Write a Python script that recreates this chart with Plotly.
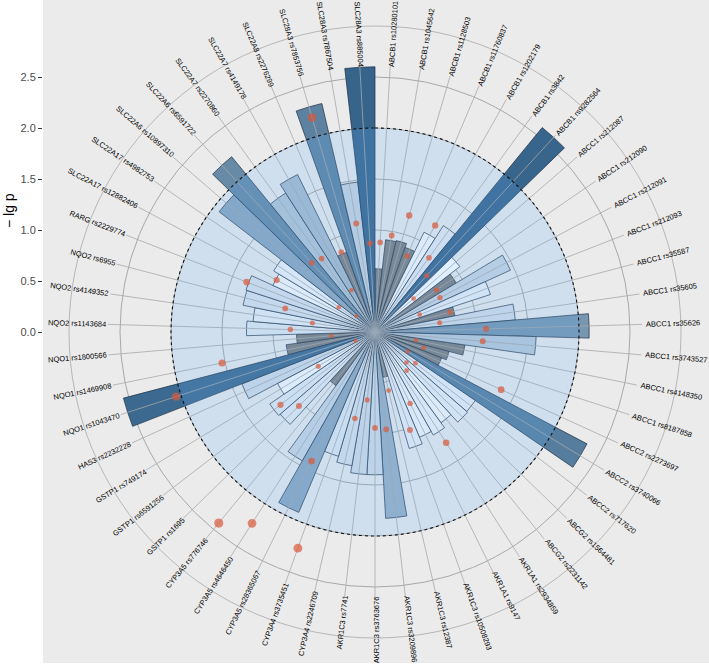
import math
import numpy as np
import plotly.graph_objects as go

# ---------------- data ----------------
snps = [
    "ABCB1 rs10280101", "ABCB1 rs1045642", "ABCB1 rs1128503", "ABCB1 rs11760837",
    "ABCB1 rs1202179", "ABCB1 rs3842", "ABCB1 rs9282564",
    "ABCC1 rs212087", "ABCC1 rs212090", "ABCC1 rs212091", "ABCC1 rs212093",
    "ABCC1 rs35587", "ABCC1 rs35605", "ABCC1 rs35626", "ABCC1 rs3743527",
    "ABCC1 rs4148350", "ABCC1 rs8187858",
    "ABCC2 rs2273697", "ABCC2 rs3740066", "ABCC2 rs717620",
    "ABCG2 rs1564481", "ABCG2 rs2231142",
    "AKR1A1 rs2934859", "AKR1A1 rs9147",
    "AKR1C3 rs10508293", "AKR1C3 rs12387", "AKR1C3 rs3209896", "AKR1C3 rs3763676", "AKR1C3 rs7741",
    "CYP3A4 rs2246709", "CYP3A4 rs3735451",
    "CYP3A5 rs28365067", "CYP3A5 rs4646450", "CYP3A5 rs776746",
    "GSTP1 rs1695", "GSTP1 rs6591256", "GSTP1 rs749174",
    "HAS3 rs2232228",
    "NQO1 rs1043470", "NQO1 rs1469908", "NQO1 rs1800566",
    "NQO2 rs1143684", "NQO2 rs4149352", "NQO2 rs6955",
    "RARG rs2229774",
    "SLC22A17 rs12882406", "SLC22A17 rs4982753",
    "SLC22A6 rs10897310", "SLC22A6 rs6591722",
    "SLC22A7 rs2270860", "SLC22A7 rs4149178",
    "SLC22A8 rs2276299",
    "SLC28A3 rs7853756", "SLC28A3 rs7867504", "SLC28A3 rs885004",
]

# bar heights (-lg p)
lgp = [
    0.62, 0.91, 0.92, 0.88, 1.09, 1.24, 2.59,
    1.05, 0.93, 1.46, 1.19, 0.80, 1.38, 2.10, 1.58, 0.89, 0.75,
    0.70, 2.35, 1.19,
    1.20, 1.10,
    1.16, 1.12,
    1.19, 0.45, 1.83, 1.40, 1.40,
    1.33, 1.27,
    1.92, 1.45, 0.65,
    1.23, 1.25, 1.08,
    1.40,
    2.55, 0.88, 0.77,
    1.26, 1.20, 1.32,
    1.33,
    1.10, 1.16,
    1.93, 2.22,
    1.62, 1.72,
    0.83,
    2.30, 1.48, 2.60,
]

# red points (-lg p of second test)
dot_lgp = [
    0.88, 0.96, 1.19, 0.81, 1.20, 0.90, 0.75,
    0.50, 0.73, 0.72, 0.47, 0.76, 0.64, 1.09, 1.06, 0.41, 0.50,
    1.36, 0.37, 0.50,
    0.43, 0.49,
    1.29, 0.78,
    1.02, 0.59, 0.96, 0.94, 0.67,
    0.87, 2.25,
    1.41, 2.23, 2.42,
    1.04, 1.17, 0.65,
    0.21,
    2.05, 1.53, 0.43,
    0.83, 0.62, 0.91,
    1.35,
    1.09, 0.43,
    0.24, 0.92,
    0.89, 0.47,
    0.85,
    2.19, 1.08, 0.87,
]

radial_ticks = [0.0, 0.5, 1.0, 1.5, 2.0, 2.5]
radial_ticktext = ["0.0", "0.5", "1.0", "1.5", "2.0", "2.5"]
threshold = 2.0      # shaded significance disk
grey_cut = 1.0       # bars below this are grey

# ---------------- geometry / style ----------------
W, H = 709, 666
ML, MR, MT, MB = 43, 0, 0, 3
PW, PH = W - ML - MR, H - MT - MB
CX, CY = 375.0, 332.0          # pixel centre of polar plot
PX_PER = 102.0                 # pixels per unit of -lg p
R_MAX = 3.0
R_PX = R_MAX * PX_PER
SPOKE_R = 2.62
LABEL_CX = 376.0
LABEL_START_V = 265.0          # label gap above/below
LABEL_START_H = 270.0          # label gap left/right
LABEL_FS = 7.5
GRID = "#a8a8a8"
FONT = "Liberation Sans, Arial, sans-serif"

N = len(snps)
step = 360.0 / N
theta = [(i + 0.5) * step for i in range(N)]


def fx(px):
    return (px - ML) / PW


def fy(py):
    return (H - MB - py) / PH


ARIAL = {
    "A": 667, "B": 667, "C": 722, "D": 722, "E": 667, "F": 611, "G": 778, "H": 722,
    "I": 278, "J": 500, "K": 667, "L": 556, "M": 833, "N": 722, "O": 778, "P": 667,
    "Q": 778, "R": 722, "S": 667, "T": 611, "U": 722, "V": 667, "W": 944, "X": 667,
    "Y": 667, "Z": 611, "r": 333, "s": 500, " ": 278,
}


def text_w(s, size):
    return sum(ARIAL.get(c, 556) for c in s) / 1000.0 * size


fig = go.Figure()

# dummy cartesian trace so that the left -lg p axis and grey panel are drawn
fig.add_trace(go.Scatter(x=[None], y=[None], showlegend=False, hoverinfo="skip"))

# spokes
sr, st = [], []
for t in theta:
    sr += [0, SPOKE_R, None]
    st += [t, t, None]
fig.add_trace(go.Scatterpolar(r=sr, theta=st, mode="lines",
                              line=dict(color=GRID, width=0.8),
                              showlegend=False, hoverinfo="skip"))

# bars
lgp_arr = np.array(lgp)
th_arr = np.array(theta)
low = lgp_arr < grey_cut
high = ~low
fig.add_trace(go.Barpolar(
    r=lgp_arr[low], theta=th_arr[low], width=[step] * int(low.sum()),
    marker=dict(color="#7f7f7f", line=dict(color="#1e2f42", width=0.7)),
    showlegend=False))
fig.add_trace(go.Barpolar(
    r=lgp_arr[high], theta=th_arr[high], width=[step] * int(high.sum()),
    marker=dict(color=lgp_arr[high],
                colorscale=[[0, "#ffffff"], [1, "#36648B"]],
                cmin=float(lgp_arr[high].min()), cmax=float(lgp_arr.max()),
                showscale=False,
                line=dict(color="#1e2f42", width=0.7)),
    showlegend=False))

# translucent disk up to threshold, dotted border
circ_t = np.linspace(0, 360, 361)
fig.add_trace(go.Scatterpolar(
    r=[threshold] * len(circ_t), theta=circ_t, mode="lines", fill="toself",
    fillcolor="rgba(100,175,250,0.2)",
    line=dict(color="#111111", width=1.1, dash="dot"),
    showlegend=False, hoverinfo="skip"))

# red points
dot_arr = np.array(dot_lgp)
fig.add_trace(go.Scatterpolar(
    r=dot_arr, theta=th_arr, mode="markers",
    marker=dict(color="#d9583a", size=3.6 + 2.3 * dot_arr, line=dict(width=0)),
    showlegend=False))

# SNP labels, rotated radially
annotations = []
for name, t in zip(snps, theta):
    a = math.radians(t)
    start = LABEL_START_V + (LABEL_START_H - LABEL_START_V) * abs(math.sin(a))
    d = start + text_w(name, LABEL_FS) / 2
    px = LABEL_CX + d * math.sin(a)
    py = CY - d * math.cos(a)
    ang = t - 90 if t < 179.99 else t - 270
    annotations.append(dict(
        x=fx(px), y=fy(py), xref="paper", yref="paper", text=name,
        showarrow=False, textangle=ang, xanchor="center", yanchor="middle",
        font=dict(family=FONT, size=LABEL_FS, color="#000000"), borderpad=0))

annotations.append(dict(
    x=fx(9), y=fy(211), xref="paper", yref="paper", text="\u2212 lg p",
    showarrow=False, textangle=-90, xanchor="center", yanchor="middle",
    font=dict(family=FONT, size=14, color="#000000")))

fig.update_layout(
    width=W, height=H,
    margin=dict(l=ML, r=MR, t=MT, b=MB, pad=0, autoexpand=False),
    paper_bgcolor="#ffffff",
    plot_bgcolor="#ebebeb",
    showlegend=False,
    xaxis=dict(range=[0, 1], visible=False, fixedrange=True, automargin=False),
    yaxis=dict(range=[(CY - (H - MB)) / PX_PER, (CY - MT) / PX_PER],
               tickvals=radial_ticks, ticktext=radial_ticktext,
               ticks="outside", ticklen=4, tickwidth=1, tickcolor="#333333",
               tickfont=dict(family=FONT, size=11, color="#4d4d4d"),
               showgrid=False, zeroline=False, showline=False, fixedrange=True,
               automargin=False),
    polar=dict(
        domain=dict(x=[fx(CX - R_PX), fx(CX + R_PX)],
                    y=[fy(CY + R_PX), fy(CY - R_PX)]),
        bgcolor="rgba(0,0,0,0)",
        radialaxis=dict(range=[0, R_MAX], tickvals=[0.5, 1.0, 1.5, 2.0, 2.5],
                        showticklabels=False, ticks="", showline=False,
                        gridcolor=GRID, gridwidth=0.8),
        angularaxis=dict(type="linear", rotation=90, direction="clockwise",
                         showgrid=False, showticklabels=False, ticks="",
                         showline=True, linecolor=GRID, linewidth=0.8),
        barmode="overlay",
    ),
    annotations=annotations,
    font=dict(family=FONT),
)

fig.write_html(
    "out.html",
    config={"displayModeBar": False},
    post_script="document.body.style.margin='0px';document.body.style.padding='0px';"
                "document.documentElement.style.overflow='hidden';",
)
